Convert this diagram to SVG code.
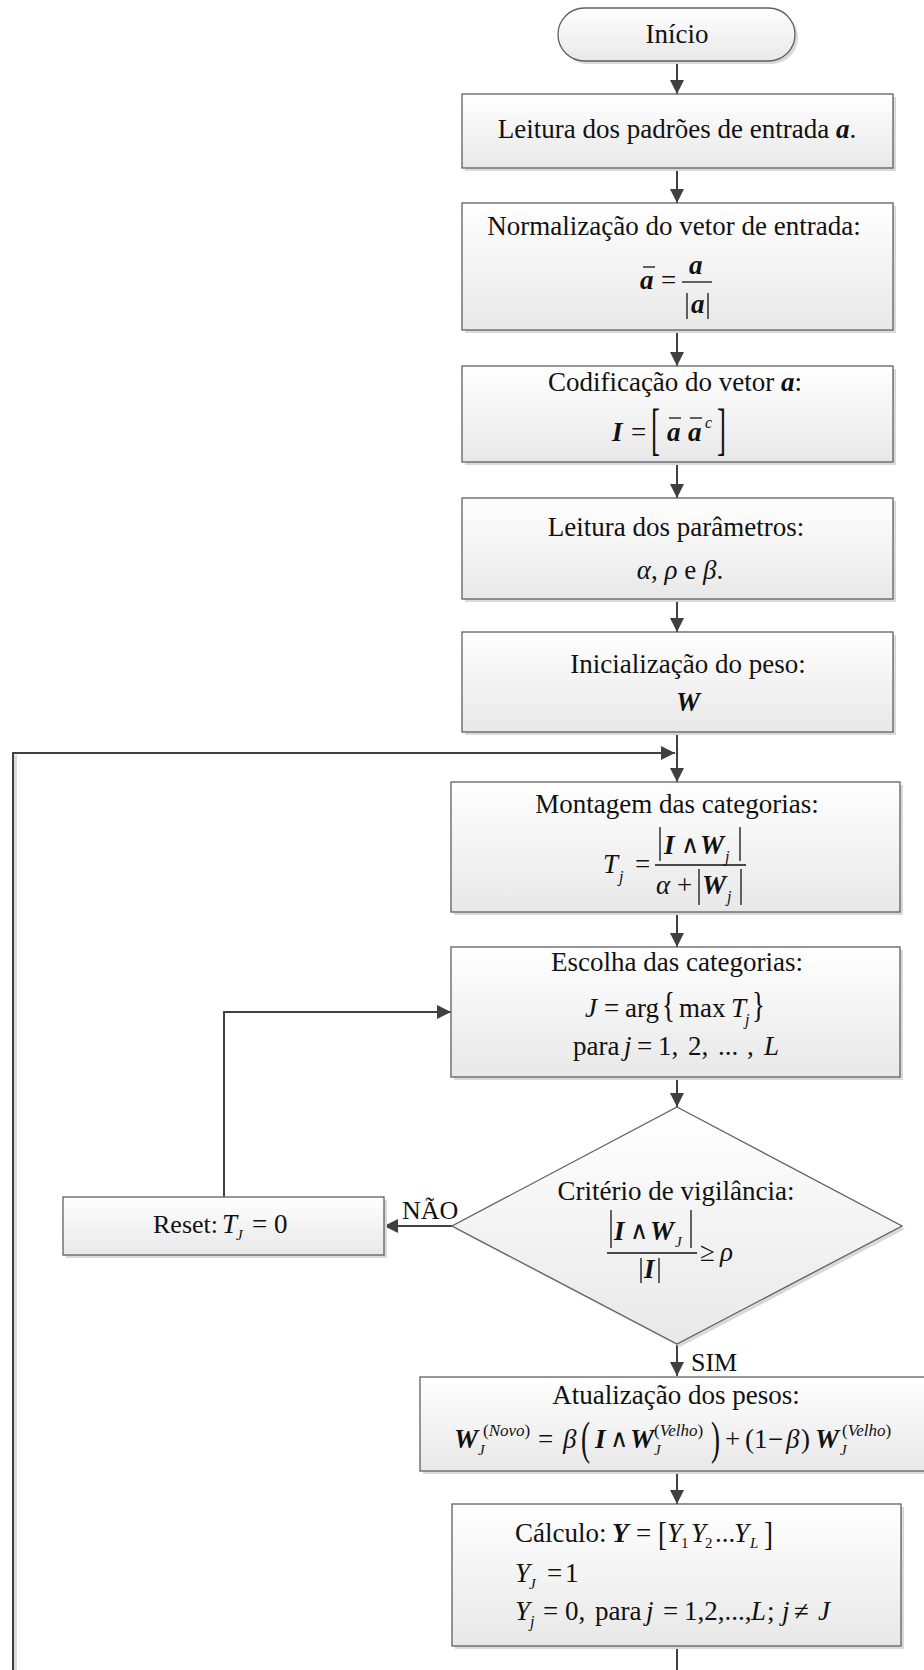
<svg xmlns="http://www.w3.org/2000/svg" width="924" height="1670" viewBox="0 0 924 1670">
  <defs>
    <linearGradient id="fillGrad" x1="0" y1="0" x2="0" y2="1">
      <stop offset="0" stop-color="#ffffff"/>
      <stop offset="1" stop-color="#e8e8e8"/>
    </linearGradient>
    <marker id="arrow" viewBox="0 0 14 14" refX="14" refY="7" markerWidth="14" markerHeight="14" markerUnits="userSpaceOnUse" orient="auto">
      <path d="M0,0 L14,7 L0,14 Z" fill="#404040"/>
    </marker>
  </defs>
  <style>
    .box { fill: url(#fillGrad); stroke: #606060; stroke-width: 1.3; }
    .shadow { fill: #d9d9d9; }
    .ln { fill: none; stroke: #404040; stroke-width: 2; }
    .lnsh { fill: none; stroke: #dcdcdc; stroke-width: 3; }
    .rule { stroke: #111; stroke-width: 1.3; }
    text { font-family: "Liberation Serif", "Times New Roman", serif; font-size: 27px; fill: #111; }
    .mid { text-anchor: middle; }
    .bi { font-weight: bold; font-style: italic; }
    .it { font-style: italic; }
    .sub { font-size: 16px; font-style: italic; }
    .subJ { font-size: 15px; font-style: italic; }
    .sup { font-size: 17px; }
    .op { font-family: "DejaVu Serif", "Liberation Serif", serif; font-size: 25px; }
    .lbl { font-size: 26px; }
  </style>

  <!-- connectors -->
  <g id="connectors">
    <path class="lnsh" d="M15.5,1670 V755"/>
    <path class="ln" d="M13,1670 V753 H675" marker-end="url(#arrow)"/>
    <path class="ln" d="M677,61 V94" marker-end="url(#arrow)"/>
    <path class="ln" d="M677,168 V203" marker-end="url(#arrow)"/>
    <path class="ln" d="M677,330 V366" marker-end="url(#arrow)"/>
    <path class="ln" d="M677,462 V498" marker-end="url(#arrow)"/>
    <path class="ln" d="M677,599 V632" marker-end="url(#arrow)"/>
    <path class="ln" d="M677,732 V782" marker-end="url(#arrow)"/>
    <path class="ln" d="M677,912 V947" marker-end="url(#arrow)"/>
    <path class="ln" d="M677,1077 V1107" marker-end="url(#arrow)"/>
    <path class="ln" d="M452,1226 H384" marker-end="url(#arrow)"/>
    <path class="ln" d="M224,1197 V1012 H451" marker-end="url(#arrow)"/>
    <path class="ln" d="M677,1344 V1376" marker-end="url(#arrow)"/>
    <path class="ln" d="M677,1471 V1504" marker-end="url(#arrow)"/>
    <path class="ln" d="M677,1646 V1670"/>
    <text class="lbl" x="402" y="1219">NÃO</text>
    <text class="lbl" x="691" y="1371">SIM</text>
  </g>

  <!-- start terminal -->
  <g id="inicio">
    <rect class="shadow" x="561" y="11" width="237" height="53" rx="26.5"/>
    <rect class="box" x="558" y="8" width="237" height="53" rx="26.5"/>
    <text class="mid" x="677" y="43">Início</text>
  </g>

  <!-- read input patterns -->
  <g id="leitura-padroes">
    <rect class="shadow" x="465" y="97" width="431" height="74"/>
    <rect class="box" x="462" y="94" width="431" height="74"/>
    <text class="mid" x="677" y="138">Leitura dos padrões de entrada <tspan class="bi">a</tspan>.</text>
  </g>

  <!-- input normalisation -->
  <g id="normalizacao">
    <rect class="shadow" x="465" y="206" width="431" height="127"/>
    <rect class="box" x="462" y="203" width="431" height="127"/>
    <text class="mid" x="674" y="235">Normalização do vetor de entrada:</text>
    <text class="bi" x="640" y="289">a</text>
    <line class="rule" x1="643" y1="267" x2="655" y2="267"/>
    <text x="661" y="289">=</text>
    <text class="bi" x="689" y="274">a</text>
    <line class="rule" x1="682" y1="282" x2="712" y2="282"/>
    <line class="rule" x1="687" y1="293" x2="687" y2="319"/>
    <text class="bi" x="691" y="313">a</text>
    <line class="rule" x1="708" y1="293" x2="708" y2="319"/>
  </g>

  <!-- complement coding -->
  <g id="codificacao">
    <rect class="shadow" x="465" y="369" width="431" height="96"/>
    <rect class="box" x="462" y="366" width="431" height="96"/>
    <text class="mid" x="675" y="391">Codificação do vetor <tspan class="bi">a</tspan>:</text>
    <text class="bi" x="612" y="441">I</text>
    <text x="631" y="441">=</text>
    <text transform="translate(651,448) scale(1,2.13)">[</text>
    <text class="bi" x="667" y="441">a</text>
    <line class="rule" x1="669" y1="418" x2="681" y2="418"/>
    <text class="bi" x="688" y="441">a</text>
    <line class="rule" x1="690" y1="418" x2="702" y2="418"/>
    <text class="it" x="705" y="428" style="font-size:16px">c</text>
    <text transform="translate(717,448) scale(1,2.13)">]</text>
  </g>

  <!-- parameters -->
  <g id="leitura-parametros">
    <rect class="shadow" x="465" y="501" width="431" height="101"/>
    <rect class="box" x="462" y="498" width="431" height="101"/>
    <text class="mid" x="676" y="536">Leitura dos parâmetros:</text>
    <text class="mid" x="680" y="579"><tspan class="it">α</tspan>, <tspan class="it">ρ</tspan> e <tspan class="it">β</tspan>.</text>
  </g>

  <!-- weight initialisation -->
  <g id="inicializacao">
    <rect class="shadow" x="465" y="635" width="431" height="100"/>
    <rect class="box" x="462" y="632" width="431" height="100"/>
    <text class="mid" x="688" y="673">Inicialização do peso:</text>
    <text class="mid bi" x="688" y="711">W</text>
  </g>

  <!-- category activation -->
  <g id="montagem">
    <rect class="shadow" x="454" y="785" width="449" height="130"/>
    <rect class="box" x="451" y="782" width="449" height="130"/>
    <text class="mid" x="677" y="813">Montagem das categorias:</text>
    <text class="it" x="603" y="873">T</text>
    <text class="sub" x="619" y="882">j</text>
    <text x="635" y="873">=</text>
    <line class="rule" x1="655" y1="865" x2="746" y2="865"/>
    <line class="rule" x1="660" y1="827" x2="660" y2="861"/>
    <text class="bi" x="664" y="854">I</text>
    <text class="op" x="681" y="853">∧</text>
    <text class="bi" x="700" y="854">W</text>
    <text class="sub" x="725" y="862">j</text>
    <line class="rule" x1="740" y1="827" x2="740" y2="861"/>
    <text class="it" x="656" y="894">α</text>
    <text x="677" y="894">+</text>
    <line class="rule" x1="699" y1="869" x2="699" y2="905"/>
    <text class="bi" x="702" y="894">W</text>
    <text class="sub" x="727" y="902">j</text>
    <line class="rule" x1="741" y1="869" x2="741" y2="905"/>
  </g>

  <!-- category choice -->
  <g id="escolha">
    <rect class="shadow" x="454" y="950" width="449" height="130"/>
    <rect class="box" x="451" y="947" width="449" height="130"/>
    <text class="mid" x="677" y="971">Escolha das categorias:</text>
    <text class="it" x="585" y="1017">J</text>
    <text x="604" y="1017">=</text>
    <text x="625" y="1017">arg</text>
    <text transform="translate(662,1017) scale(1,1.29)">{</text>
    <text x="679" y="1017">max</text>
    <text class="it" x="731" y="1017">T</text>
    <text class="sub" x="745" y="1025">j</text>
    <text transform="translate(752,1017) scale(1,1.29)">}</text>
    <text x="573" y="1055">para</text>
    <text class="it" x="624" y="1055">j</text>
    <text x="637" y="1055">=</text>
    <text x="658" y="1055">1,</text>
    <text x="688" y="1055">2,</text>
    <text x="718" y="1055">...</text>
    <text x="747" y="1055">,</text>
    <text class="it" x="764" y="1055">L</text>
  </g>

  <!-- vigilance test -->
  <g id="vigilancia">
    <polygon class="shadow" points="680,1110 905,1229 680,1347 455,1229"/>
    <polygon class="box" points="677,1107 902,1226 677,1344 452,1226"/>
    <text class="mid" x="676" y="1200">Critério de vigilância:</text>
    <line class="rule" x1="611" y1="1210" x2="611" y2="1248"/>
    <text class="bi" x="614" y="1240">I</text>
    <text class="op" x="630" y="1239">∧</text>
    <text class="bi" x="650" y="1240">W</text>
    <text class="subJ" x="675" y="1247">J</text>
    <line class="rule" x1="691" y1="1210" x2="691" y2="1248"/>
    <line class="rule" x1="607" y1="1253" x2="697" y2="1253"/>
    <line class="rule" x1="641" y1="1258" x2="641" y2="1283"/>
    <text class="bi" x="644" y="1278">I</text>
    <line class="rule" x1="659" y1="1258" x2="659" y2="1283"/>
    <text x="700" y="1261">≥</text>
    <text class="it" x="720" y="1261">ρ</text>
  </g>

  <!-- reset -->
  <g id="reset">
    <rect class="shadow" x="66" y="1200" width="321" height="58"/>
    <rect class="box" x="63" y="1197" width="321" height="58"/>
    <text x="153" y="1233" style="font-size:26px">Reset:</text>
    <text class="it" x="222" y="1233">T</text>
    <text class="subJ" x="236" y="1240">J</text>
    <text x="252" y="1233">=</text>
    <text x="274" y="1233">0</text>
  </g>

  <!-- weight update -->
  <g id="atualizacao">
    <rect class="shadow" x="423" y="1380" width="520" height="94"/>
    <rect class="box" x="420" y="1377" width="520" height="94"/>
    <text class="mid" x="676" y="1404">Atualização dos pesos:</text>
    <text class="bi" x="454" y="1448">W</text>
    <text class="subJ" x="478" y="1455">J</text>
    <text class="sup" x="483" y="1436">(<tspan class="it">Novo</tspan>)</text>
    <text x="538" y="1448">=</text>
    <text class="it" x="563" y="1448">β</text>
    <text transform="translate(581,1454) scale(1,1.74)">(</text>
    <text class="bi" x="595" y="1448">I</text>
    <text class="op" x="610" y="1447">∧</text>
    <text class="bi" x="630" y="1448">W</text>
    <text class="subJ" x="654" y="1455">J</text>
    <text class="sup" x="654" y="1436">(<tspan class="it">Velho</tspan>)</text>
    <text transform="translate(711,1454) scale(1,1.74)">)</text>
    <text x="725" y="1448">+</text>
    <text x="745" y="1448">(1</text>
    <text x="768" y="1448">−</text>
    <text class="it" x="786" y="1448">β</text>
    <text x="801" y="1448">)</text>
    <text class="bi" x="815" y="1448">W</text>
    <text class="subJ" x="840" y="1455">J</text>
    <text class="sup" x="842" y="1436">(<tspan class="it">Velho</tspan>)</text>
  </g>

  <!-- output vector -->
  <g id="calculo">
    <rect class="shadow" x="455" y="1507" width="449" height="142"/>
    <rect class="box" x="452" y="1504" width="449" height="142"/>
    <text x="515" y="1542">Cálculo:</text>
    <text class="bi" x="612" y="1542">Y</text>
    <text x="636" y="1542">=</text>
    <text transform="translate(658,1545) scale(1,1.27)">[</text>
    <text class="it" x="667" y="1542">Y</text>
    <text x="681" y="1548" style="font-size:15px">1</text>
    <text class="it" x="691" y="1542">Y</text>
    <text x="705" y="1548" style="font-size:15px">2</text>
    <text x="715" y="1542">...</text>
    <text class="it" x="734" y="1542">Y</text>
    <text class="subJ" x="750" y="1548">L</text>
    <text transform="translate(764,1545) scale(1,1.27)">]</text>
    <text class="it" x="515" y="1582">Y</text>
    <text class="subJ" x="529" y="1589">J</text>
    <text x="547" y="1582">=</text>
    <text x="565" y="1582">1</text>
    <text class="it" x="515" y="1620">Y</text>
    <text class="sub" x="530" y="1627">j</text>
    <text x="543" y="1620">=</text>
    <text x="565" y="1620">0,</text>
    <text x="595" y="1620">para</text>
    <text class="it" x="646" y="1620">j</text>
    <text x="663" y="1620">=</text>
    <text x="684" y="1620">1,2,...,</text>
    <text class="it" x="751" y="1620">L</text>
    <text x="767" y="1620">;</text>
    <text class="it" x="782" y="1620">j</text>
    <text x="794" y="1620">≠</text>
    <text class="it" x="818" y="1620">J</text>
  </g>
</svg>
